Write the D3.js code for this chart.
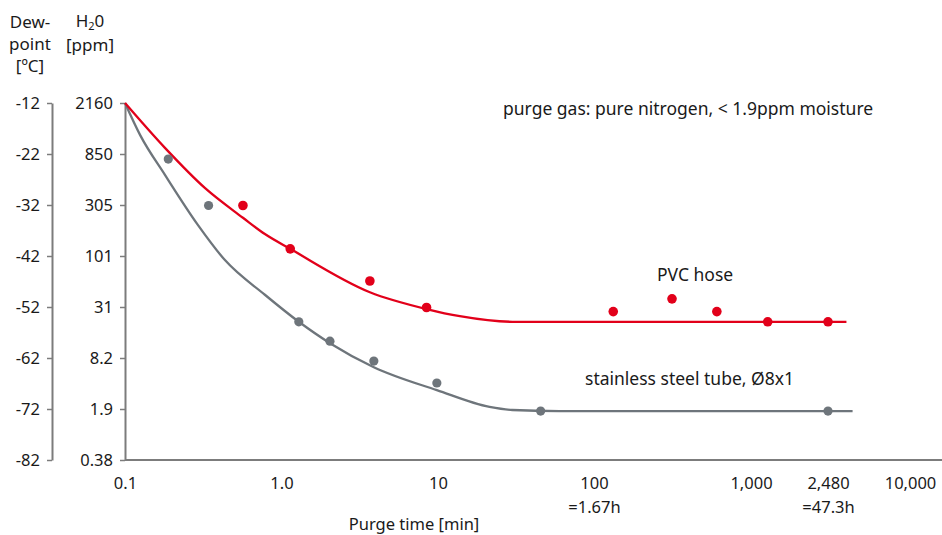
<!DOCTYPE html>
<html>
<head>
<meta charset="utf-8">
<script src="https://cdn.jsdelivr.net/npm/d3@7"></script>
<style>
  body { margin: 0; background: #fff; }
  svg text { font-family: "Noto Sans", sans-serif; fill: #1a1a1a; }
</style>
</head>
<body>
<div class="chart"></div>
<script>
// purge time [min] (log axis) and dew point [°C]
const dewTicks = [-12, -22, -32, -42, -52, -62, -72, -82];
const ppmLabels = ["2160", "850", "305", "101", "31", "8.2", "1.9", "0.38"];
const timeTicks = [0.1, 1, 10, 100, 1000, 2480, 10000];
const timeLabels = [["0.1"], ["1.0"], ["10"], ["100", "=1.67h"], ["1,000"], ["2,480", "=47.3h"], ["10,000"]];

// measured points
const steelTime = [0.189, 0.342, 1.29, 2.04, 3.89, 9.83, 45.5, 2480];
const steelDew = [-23.0, -32.1, -54.9, -58.7, -62.6, -66.9, -72.4, -72.4];
const pvcTime = [0.567, 1.137, 3.67, 8.45, 132.6, 314, 606, 1218, 2480];
const pvcDew = [-32.1, -40.6, -46.9, -52.1, -52.9, -50.4, -52.9, -54.9, -54.9];

// fitted curves
const steelCurveTime = [0.1, 0.125, 0.18, 0.292, 0.435, 0.783, 1.29, 2.04, 3.89, 9.83, 21.4, 30, 60, 3767];
const steelCurveDew = [-12, -18.3, -26.1, -35.9, -42.8, -49.6, -54.9, -59.1, -63.8, -68.3, -71.6, -72.2, -72.4, -72.4];
const pvcCurveTime = [0.1, 0.18, 0.325, 0.567, 0.783, 1.137, 3.67, 8.45, 13.8, 30, 3393];
const pvcCurveDew = [-12, -20.8, -28.7, -34.5, -37.7, -40.6, -49.1, -52.4, -53.8, -54.9, -54.9];

const W = 942, H = 535;
const red = "#e2001a", grey = "#6e757b", axisCol = "#7c7c7c";

const svg = d3.select(".chart").append("svg")
  .attr("width", W).attr("height", H);

// the time axis is log per decade, with 2,480 placed where the original puts it
const x = d3.scaleLog()
  .domain(timeTicks)
  .range([125, 281.5, 438, 594, 751, 828, 910]);
const y = d3.scaleLinear().domain([-82, -12]).range([460, 103]);

// dew point axis
const dewAxis = svg.append("g")
  .attr("transform", "translate(52,0)")
  .call(d3.axisLeft(y).tickValues(dewTicks).tickSize(5).tickSizeOuter(0).tickPadding(7).tickFormat(d => d));

// ppm axis
const ppmAxis = svg.append("g")
  .attr("transform", "translate(125,0)")
  .call(d3.axisLeft(y).tickValues(dewTicks).tickSize(5).tickSizeOuter(0).tickPadding(7)
    .tickFormat((d, i) => ppmLabels[i]));

[dewAxis, ppmAxis].forEach(g => {
  g.select(".domain").attr("stroke", axisCol).attr("stroke-width", 2);
  g.selectAll(".tick line").attr("stroke", axisCol).attr("stroke-width", 1.5);
  g.selectAll(".tick text").attr("font-size", 16.5).attr("font-family", "Noto Sans").attr("fill", "#1a1a1a");
});

// time axis
svg.append("line")
  .attr("x1", 125).attr("x2", W).attr("y1", 460).attr("y2", 460)
  .attr("stroke", axisCol).attr("stroke-width", 2);

const xAxis = svg.append("g")
  .attr("transform", "translate(0,460)")
  .call(d3.axisBottom(x).tickValues(timeTicks).tickSize(0).tickFormat(""));
xAxis.select(".domain").remove();
xAxis.selectAll(".tick").each(function(d, i) {
  const t = d3.select(this).append("text")
    .attr("text-anchor", "middle").attr("font-size", 16.5);
  timeLabels[i].forEach((s, k) => {
    t.append("tspan").attr("x", 0).attr("y", 29 + k * 24).text(s);
  });
});

svg.append("text").attr("x", 414).attr("y", 530)
  .attr("text-anchor", "middle").attr("font-size", 16.5)
  .text("Purge time [min]");

// axis headers
const head = [["Dew-", 30, 28], ["point", 30, 50], ["[ºC]", 30, 72], ["[ppm]", 90, 51]];
head.forEach(h => {
  svg.append("text").attr("x", h[1]).attr("y", h[2])
    .attr("text-anchor", "middle").attr("font-size", 17).text(h[0]);
});
const h2o = svg.append("text").attr("x", 90).attr("y", 27)
  .attr("text-anchor", "middle").attr("font-size", 17);
h2o.append("tspan").text("H");
h2o.append("tspan").attr("font-size", 11).attr("dy", 3).text("2");
h2o.append("tspan").attr("dy", -3).text("0");

// curves
const line = d3.line().x(d => x(d[0])).y(d => y(d[1])).curve(d3.curveMonotoneX);

svg.append("path")
  .datum(steelCurveTime.map((t, i) => [t, steelCurveDew[i]]))
  .attr("d", line).attr("fill", "none")
  .attr("stroke", grey).attr("stroke-width", 2.3);

svg.append("path")
  .datum(pvcCurveTime.map((t, i) => [t, pvcCurveDew[i]]))
  .attr("d", line).attr("fill", "none")
  .attr("stroke", red).attr("stroke-width", 2.3);

// points
svg.selectAll(".steel")
  .data(steelTime.map((t, i) => [t, steelDew[i]]))
  .join("circle").attr("class", "steel")
  .attr("cx", d => x(d[0])).attr("cy", d => y(d[1]))
  .attr("r", 4.6).attr("fill", grey);

svg.selectAll(".pvc")
  .data(pvcTime.map((t, i) => [t, pvcDew[i]]))
  .join("circle").attr("class", "pvc")
  .attr("cx", d => x(d[0])).attr("cy", d => y(d[1]))
  .attr("r", 4.8).attr("fill", red);

// annotations
svg.append("text").attr("x", 503).attr("y", 115).attr("font-size", 17.5)
  .text("purge gas: pure nitrogen, < 1.9ppm moisture");
svg.append("text").attr("x", 657).attr("y", 281).attr("font-size", 17.5)
  .text("PVC hose");
svg.append("text").attr("x", 585).attr("y", 385).attr("font-size", 17.5)
  .text("stainless steel tube, Ø8x1");
</script>
</body>
</html>
